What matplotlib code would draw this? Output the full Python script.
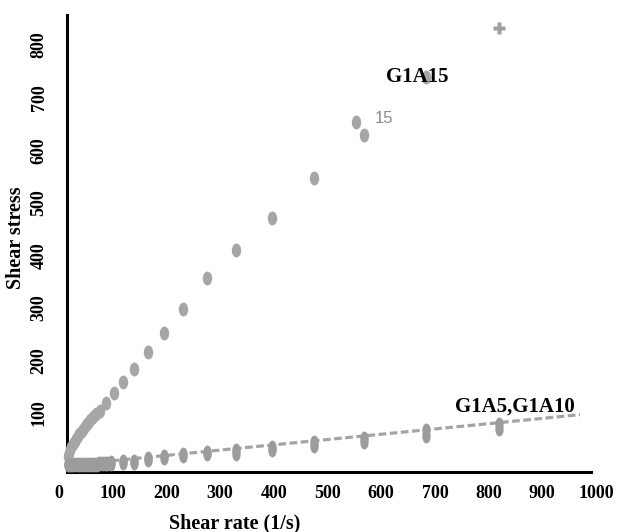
import matplotlib
matplotlib.use("Agg")
import matplotlib.pyplot as plt
from matplotlib.path import Path
from matplotlib.transforms import Affine2D

# ---- data ----
g1a15_x = [17, 18, 20, 23, 26, 29, 32, 35, 38, 42, 46, 50, 54, 58, 63, 68, 76, 88, 102,
           119, 140, 166, 196, 231, 276, 330, 397, 475, 553, 568, 683]
g1a15_y = [18, 24, 30, 36, 41, 46, 51, 56, 61, 66, 71, 77, 82, 87, 93, 98, 104, 119, 138,
           159, 184, 216, 253, 298, 357, 410, 471, 547, 654, 629, 740]
g1a15_end_x = [819]
g1a15_end_y = [833]

low_x = [17, 20, 25, 30, 35, 40, 45, 50, 55, 60, 65, 70, 75, 80, 85, 90, 97, 119, 140,
         166, 196, 231, 276, 330, 397, 475, 568, 683, 819]
g1a5_y = [1, 1, 1, 1, 1, 1, 2, 2, 2, 2, 2, 2, 3, 3, 3, 3, 3, 5, 5,
          10, 14, 18, 22, 23, 29, 37, 45, 57, 70]
g1a10_y = [3, 3, 3, 3, 3, 3, 4, 4, 4, 4, 4, 4, 5, 5, 5, 6, 7, 9, 9,
           14, 18, 22, 26, 29, 35, 45, 53, 67, 80]

trend_x = [15, 970]
trend_y = [1, 97]

x_ticks = [0, 100, 200, 300, 400, 500, 600, 700, 800, 900, 1000]
y_ticks = [100, 200, 300, 400, 500, 600, 700, 800]

# ---- style ----
plt.rcParams['font.family'] = ['Liberation Serif', 'DejaVu Serif']
fig = plt.figure(figsize=(6.19, 5.32), dpi=100)
ax = fig.add_axes([59 / 619, 60 / 532, 537 / 619, 457 / 532])
ax.set_xlim(0, 1000)
ax.set_ylim(-12, 857)

ell_up = Path.unit_circle().transformed(Affine2D().scale(0.68, 1.0))
ell_lo = Path.unit_circle().transformed(Affine2D().scale(0.6, 1.0))

ax.plot(trend_x, trend_y, color='#a4a4a4', lw=2.3, dashes=(2.4, 1.1), zorder=2)
ax.plot(g1a15_x, g1a15_y, ls='none', marker=ell_up, ms=10, color='#a6a6a6',
        mec='none', zorder=3)
ax.plot(low_x, g1a5_y, ls='none', marker=ell_lo, ms=10, color='#9c9c9c',
        mec='none', zorder=3)
ax.plot(low_x, g1a10_y, ls='none', marker=ell_lo, ms=10, color='#9c9c9c',
        mec='none', zorder=3)
ax.plot(g1a15_end_x, g1a15_end_y, ls='none', marker='P', ms=8, color='#a0a0a0',
        mec='none', zorder=3)

# spines
for s in ['top', 'right']:
    ax.spines[s].set_visible(False)
ax.spines['left'].set_position(('data', 15))
ax.spines['left'].set_linewidth(2.2)
ax.spines['bottom'].set_linewidth(2.2)
ax.spines['bottom'].set_bounds(15, 990)

ax.set_xticks(x_ticks)
ax.set_xticklabels([str(v) for v in x_ticks], fontsize=13, fontweight='bold')
ax.set_yticks(y_ticks)
ax.set_yticklabels([str(v) for v in y_ticks], fontsize=13, fontweight='bold',
                   rotation=90, va='center')
ax.tick_params(axis='x', length=0, pad=9)
ax.tick_params(axis='y', length=0, pad=14)

ax.set_xlabel('Shear rate (1/s)', fontsize=14.5, fontweight='bold')
ax.xaxis.set_label_coords(0.328, -0.09)
ax.set_ylabel('Shear stress', fontsize=14.5, fontweight='bold')
ax.yaxis.set_label_coords(-0.062, 0.512)

ax.text(667, 740, 'G1A15', fontsize=15, fontweight='bold', ha='center', va='center',
        zorder=4)
ax.text(849, 112, 'G1A5,G1A10', fontsize=15, fontweight='bold', ha='center',
        va='center', zorder=4)
ax.text(605, 660, '15', fontsize=12, color='#8a8a8a', ha='center', va='center',
        family=['Liberation Sans Narrow', 'Liberation Sans', 'DejaVu Sans'])

fig.savefig('out.png', dpi=100)
